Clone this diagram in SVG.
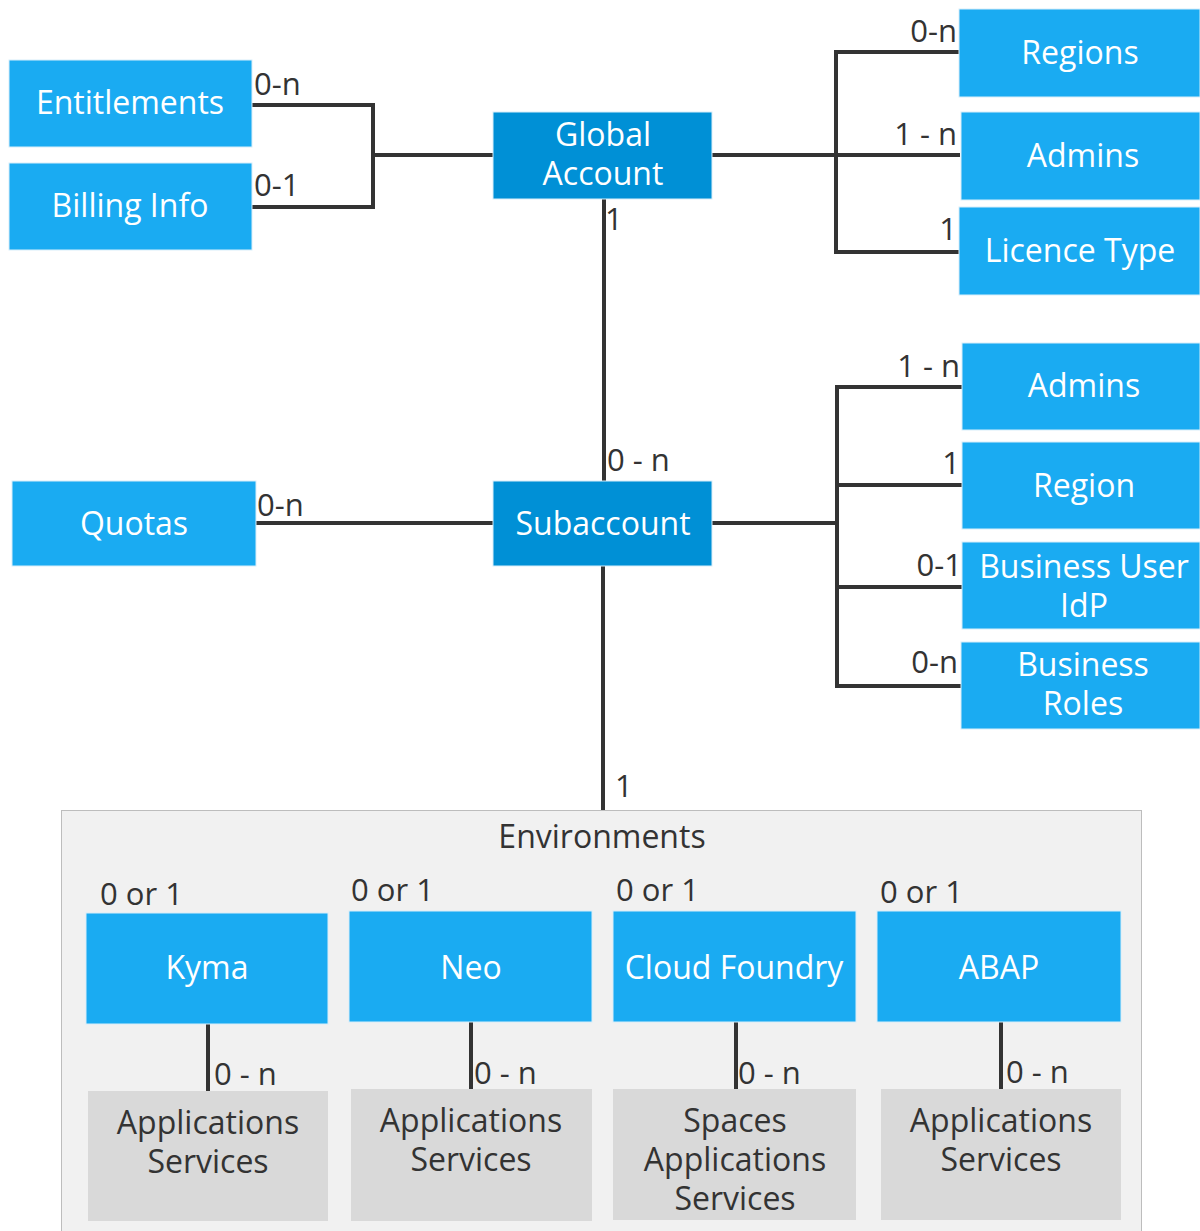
<svg xmlns="http://www.w3.org/2000/svg" width="1200" height="1231" viewBox="0 0 1200 1231">
<style>
.n{fill:#1aabf2;stroke:#d8eefa;stroke-width:1}
.d{fill:#0090d6;stroke:#d8eefa;stroke-width:1}
.g{fill:#d9d9d9}
.t{font-family:"Open Sans","Liberation Sans",sans-serif;font-size:32px;fill:#fff;text-anchor:middle}
.tg{font-family:"Open Sans","Liberation Sans",sans-serif;font-size:32px;fill:#333;text-anchor:middle}
.l{font-family:"Open Sans","Liberation Sans",sans-serif;font-size:31px;fill:#333}
.r{text-anchor:end}
.c{fill:none;stroke:#333;stroke-width:4}
</style>
<rect x="0" y="0" width="1200" height="1231" fill="#fff"/>
<g id="environments">
<rect x="61.5" y="810.5" width="1080" height="421" fill="#f1f1f1" stroke="#bdbdbd" stroke-width="1"/>
<text class="tg" x="602" y="848">Environments</text>
</g>
<g id="connectors">
<path class="c" d="M252 105H373V207H252M373 155H493"/>
<path class="c" d="M712 155H960M959 52H836V252H959"/>
<path class="c" d="M604 199V481"/>
<path class="c" d="M712 523H837M962 387H837V686H961M837 485H962M837 587H962"/>
<path class="c" d="M256 523H493"/>
<path class="c" d="M603 566V810"/>
<path class="c" d="M208 1024V1091M471 1022V1089M736 1022V1089M1001 1022V1089"/>
</g>
<g id="labels">
<text class="l" x="254" y="95">0-n</text>
<text class="l" x="254" y="196">0-1</text>
<text class="l r" x="957" y="42">0-n</text>
<text class="l r" x="957" y="145">1 - n</text>
<text class="l r" x="957" y="240">1</text>
<text class="l" x="605" y="230">1</text>
<text class="l" x="607" y="471">0 - n</text>
<text class="l" x="257" y="516">0-n</text>
<text class="l r" x="960" y="377">1 - n</text>
<text class="l r" x="960" y="474">1</text>
<text class="l r" x="962" y="576">0-1</text>
<text class="l r" x="958" y="673">0-n</text>
<text class="l" x="615" y="797">1</text>
<text class="l" x="100" y="905">0 or 1</text>
<text class="l" x="351" y="901">0 or 1</text>
<text class="l" x="616" y="901">0 or 1</text>
<text class="l" x="880" y="903">0 or 1</text>
<text class="l" x="214" y="1085">0 - n</text>
<text class="l" x="474" y="1084">0 - n</text>
<text class="l" x="738" y="1084">0 - n</text>
<text class="l" x="1006" y="1083">0 - n</text>
</g>
<g id="entitlements"><rect class="n" x="9" y="60" width="243" height="87"/><text class="t" x="130" y="114">Entitlements</text></g>
<g id="billing"><rect class="n" x="9" y="163" width="243" height="87"/><text class="t" x="130" y="217">Billing Info</text></g>
<g id="global"><rect class="d" x="493" y="112" width="219" height="87"/><text class="t" x="603" y="146">Global</text><text class="t" x="603" y="185">Account</text></g>
<g id="regions"><rect class="n" x="959" y="9" width="241" height="88"/><text class="t" x="1080" y="64">Regions</text></g>
<g id="admins1"><rect class="n" x="961" y="112" width="239" height="88"/><text class="t" x="1083" y="167">Admins</text></g>
<g id="licence"><rect class="n" x="959" y="207" width="241" height="88"/><text class="t" x="1080" y="262">Licence Type</text></g>
<g id="subaccount"><rect class="d" x="493" y="481" width="219" height="85"/><text class="t" x="603" y="535">Subaccount</text></g>
<g id="quotas"><rect class="n" x="12" y="481" width="244" height="85"/><text class="t" x="134" y="535">Quotas</text></g>
<g id="admins2"><rect class="n" x="962" y="343" width="238" height="87"/><text class="t" x="1084" y="397">Admins</text></g>
<g id="region"><rect class="n" x="962" y="442" width="238" height="87"/><text class="t" x="1084" y="497">Region</text></g>
<g id="idp"><rect class="n" x="962" y="542" width="238" height="87"/><text class="t" x="1084" y="578">Business User</text><text class="t" x="1084" y="617">IdP</text></g>
<g id="roles"><rect class="n" x="961" y="642" width="239" height="87"/><text class="t" x="1083" y="676">Business</text><text class="t" x="1083" y="715">Roles</text></g>
<g id="kyma"><rect class="n" x="86" y="913" width="242" height="111"/><text class="t" x="207" y="979">Kyma</text></g>
<g id="neo"><rect class="n" x="349" y="911" width="243" height="111"/><text class="t" x="471" y="979">Neo</text></g>
<g id="cf"><rect class="n" x="613" y="911" width="243" height="111"/><text class="t" x="734" y="979">Cloud Foundry</text></g>
<g id="abap"><rect class="n" x="877" y="911" width="244" height="111"/><text class="t" x="999" y="979">ABAP</text></g>
<g id="kyma-apps"><rect class="g" x="88" y="1091" width="240" height="130"/><text class="tg" x="208" y="1134">Applications</text><text class="tg" x="208" y="1173">Services</text></g>
<g id="neo-apps"><rect class="g" x="351" y="1089" width="241" height="132"/><text class="tg" x="471" y="1132">Applications</text><text class="tg" x="471" y="1171">Services</text></g>
<g id="cf-apps"><rect class="g" x="613" y="1089" width="243" height="131"/><text class="tg" x="735" y="1132">Spaces</text><text class="tg" x="735" y="1171">Applications</text><text class="tg" x="735" y="1210">Services</text></g>
<g id="abap-apps"><rect class="g" x="881" y="1089" width="240" height="131"/><text class="tg" x="1001" y="1132">Applications</text><text class="tg" x="1001" y="1171">Services</text></g>
</svg>
